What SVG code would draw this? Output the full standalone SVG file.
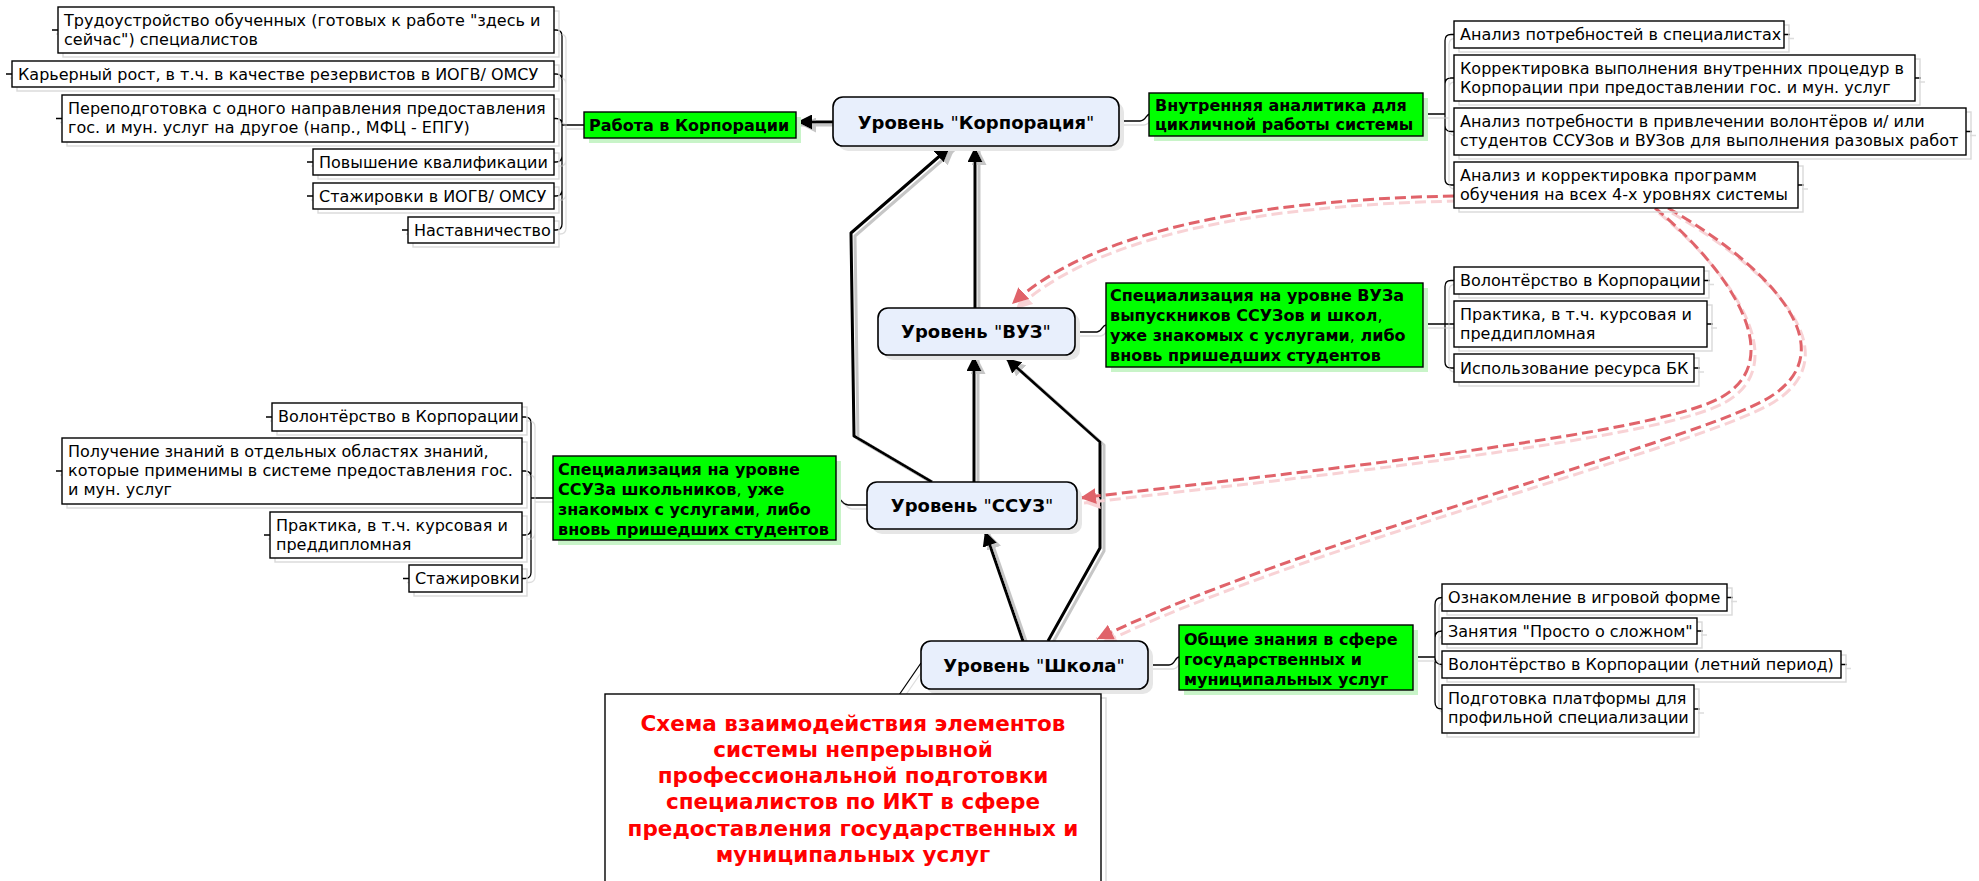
<svg xmlns="http://www.w3.org/2000/svg" width="1979" height="881" viewBox="0 0 1979 881">
<style>
.bg{fill:#fff}
.leaf{fill:#fff;stroke:#000;stroke-width:1.4}
.lsh{fill:none;stroke:#d9d9d9;stroke-width:1.4}
.t{font-family:"DejaVu Sans",Verdana,sans-serif;font-size:16px;fill:#000}
.green{fill:#00ff00;stroke:#000;stroke-width:1.4}
.gsh{fill:#c8f4c8}
.gt{font-family:"DejaVu Sans",Verdana,sans-serif;font-size:16px;font-weight:bold;fill:#000}
.n{font-weight:normal}
.lvl{fill:#e8effc;stroke:#000;stroke-width:1.6}
.lvsh{fill:#e6e6e6}
.lt{font-family:"DejaVu Sans",Verdana,sans-serif;font-size:18px;font-weight:bold;fill:#000;text-anchor:middle}
.tt{font-family:"DejaVu Sans",Verdana,sans-serif;font-size:21.5px;font-weight:bold;fill:#ff0000;text-anchor:middle}
.arrow{stroke:#000;stroke-width:3;fill:none;stroke-linejoin:round;marker-end:url(#ah)}
.br{stroke:#000;stroke-width:1.3;fill:none}
.red{stroke:#e0636a;stroke-width:3;stroke-dasharray:11 5;fill:none;marker-end:url(#ahr)}
</style>
<defs>
<marker id="ah" markerUnits="userSpaceOnUse" markerWidth="17" markerHeight="15" refX="15" refY="7.5" orient="auto"><path d="M0,0 L15,7.5 L0,15 z" fill="#000"/></marker>
<marker id="ahr" markerUnits="userSpaceOnUse" markerWidth="18" markerHeight="16" refX="16" refY="8" orient="auto"><path d="M0,0 L16,8 L0,16 z" fill="#e0636a"/></marker>
<filter id="shg" filterUnits="userSpaceOnUse" x="0" y="0" width="1979" height="881">
<feOffset in="SourceAlpha" dx="4" dy="3" result="o"/><feFlood flood-color="#c6c6c6"/><feComposite in2="o" operator="in" result="s"/>
<feMerge><feMergeNode in="s"/><feMergeNode in="SourceGraphic"/></feMerge></filter>
<filter id="shl" filterUnits="userSpaceOnUse" x="0" y="0" width="1979" height="881">
<feOffset in="SourceAlpha" dx="4" dy="4" result="o"/><feFlood flood-color="#dddddd"/><feComposite in2="o" operator="in" result="s"/>
<feMerge><feMergeNode in="s"/><feMergeNode in="SourceGraphic"/></feMerge></filter>
<filter id="shr" filterUnits="userSpaceOnUse" x="0" y="0" width="1979" height="881">
<feOffset in="SourceAlpha" dx="4" dy="5" result="o"/><feFlood flood-color="#f8d2d5"/><feComposite in2="o" operator="in" result="s"/>
<feMerge><feMergeNode in="s"/><feMergeNode in="SourceGraphic"/></feMerge></filter>
</defs>
<rect class="bg" x="0" y="0" width="1979" height="881"/>

<g id="connectors">
<g id="brackets" filter="url(#shl)" class="br">
<path d="M554,30 H556 Q562,30 562,36 M554,74 H556 Q562,74 562,80 M554,118.5 H556 Q562,118.5 562,124.5 M554,162 H556 Q562,162 562,156 M554,196 H556 Q562,196 562,190 M554,230 H556 Q562,230 562,224 M562,36 V224 M562,125 H584"/>
<path d="M1454,34.5 H1451 Q1445,34.5 1445,40.5 M1454,78 H1451 Q1445,78 1445,84 M1454,131.5 H1451 Q1445,131.5 1445,125.5 M1454,185 H1451 Q1445,185 1445,179 M1445,40.5 V179 M1423,114 H1445"/>
<path d="M1454,280.5 H1451 Q1445,280.5 1445,286.5 M1454,324 H1423 M1454,368 H1451 Q1445,368 1445,362 M1445,286.5 V362"/>
<path d="M522,417 H525 Q531,417 531,423 M522,471 H525 Q531,471 531,477 M522,535 H525 Q531,535 531,529 M522,578.5 H525 Q531,578.5 531,572.5 M531,423 V572.5 M531,498 H553"/>
<path d="M1442,597.5 Q1435,597.5 1435,604.5 M1442,631 Q1435,631 1435,638 M1442,664.5 Q1435,664.5 1435,657.5 M1442,709 Q1435,709 1435,702 M1435,604.5 V702 M1413,657 H1435"/>
<path d="M1119,121 H1140 C1146,121 1146,114 1150,114"/>
<path d="M1075,332 H1097 C1102,332 1102,325 1106,325"/>
<path d="M836,498 C842,498 842,505 848,505 H867"/>
<path d="M1148,665 H1169 C1175,665 1175,657 1179,657"/>
<path d="M921,663 L899,695"/>
<path d="M52,30 h6 M6,74 h6 M56,118.5 h6 M307,162 h6 M307,196 h6 M402,230 h6"/>
<path d="M1784,34.5 h6 M1915,78 h6 M1966,131.5 h6 M1798,185 h6"/>
<path d="M1704,280.5 h6 M1707,324 h6 M1694,368 h6"/>
<path d="M266,417 h6 M56,471 h6 M264,535 h6 M403,578.5 h6"/>
<path d="M1727,597.5 h6 M1697,631 h6 M1841,664.5 h6 M1694,709 h6"/>
</g>
<g id="arrows" filter="url(#shg)">
<path class="arrow" d="M833,122 H797"/>
<path class="arrow" d="M975,308 V147"/>
<path class="arrow" d="M932,482 L854,436 L851,233 L950,147"/>
<path class="arrow" d="M974,482 V356"/>
<path class="arrow" d="M1048,641 L1100,548 L1100,442 L1006,358"/>
<path class="arrow" d="M1023,641 L985,531"/>
</g>
<g id="dashed" filter="url(#shr)">
<path class="red" d="M1454,196 C1250,200 1090,232 1012,304"/>
<path class="red" d="M1655,208 C1730,270 1790,360 1720,398 C1650,436 1300,472 1080,498"/>
<path class="red" d="M1668,208 C1775,270 1845,350 1770,397 C1700,441 1300,540 1097,639"/>
</g>
</g>

<g id="level-corp"><rect class="lvsh" x="838" y="102" width="286" height="49" rx="10"/><rect class="lvl" x="833" y="97" width="286" height="49" rx="10"/><text class="lt" x="976" y="129">Уровень <tspan class="n">"</tspan>Корпорация<tspan class="n">"</tspan></text></g>
<g id="level-vuz"><rect class="lvsh" x="883" y="313" width="197" height="47" rx="10"/><rect class="lvl" x="878" y="308" width="197" height="47" rx="10"/><text class="lt" x="976" y="338">Уровень <tspan class="n">"</tspan>ВУЗ<tspan class="n">"</tspan></text></g>
<g id="level-ssuz"><rect class="lvsh" x="872" y="487" width="210" height="47" rx="10"/><rect class="lvl" x="867" y="482" width="210" height="47" rx="10"/><text class="lt" x="972" y="512">Уровень <tspan class="n">"</tspan>ССУЗ<tspan class="n">"</tspan></text></g>
<g id="level-school"><rect class="lvsh" x="926" y="646" width="227" height="48" rx="10"/><rect class="lvl" x="921" y="641" width="227" height="48" rx="10"/><text class="lt" x="1034" y="672">Уровень <tspan class="n">"</tspan>Школа<tspan class="n">"</tspan></text></g>

<g id="g-work"><rect class="gsh" x="589" y="117" width="212" height="26"/><rect class="green" x="584" y="112" width="212" height="26"/><text class="gt" x="589" y="131">Работа в Корпорации</text></g>
<g id="g-analytics"><rect class="gsh" x="1154" y="98" width="274" height="43"/><rect class="green" x="1149" y="93" width="274" height="43"/><text class="gt"><tspan x="1155" y="111">Внутренняя аналитика для</tspan><tspan x="1155" y="130">цикличной работы системы</tspan></text></g>
<g id="g-vuz"><rect class="gsh" x="1111" y="288" width="317" height="84"/><rect class="green" x="1106" y="283" width="317" height="84"/><text class="gt"><tspan x="1110" y="301">Специализация на уровне ВУЗа</tspan><tspan x="1110" y="321">выпускников ССУЗов и школ<tspan class="n">,</tspan></tspan><tspan x="1110" y="341">уже знакомых с услугами<tspan class="n">,</tspan> либо</tspan><tspan x="1110" y="361">вновь пришедших студентов</tspan></text></g>
<g id="g-ssuz"><rect class="gsh" x="558" y="461" width="283" height="84"/><rect class="green" x="553" y="456" width="283" height="84"/><text class="gt"><tspan x="558" y="475">Специализация на уровне</tspan><tspan x="558" y="495">ССУЗа школьников<tspan class="n">,</tspan> уже</tspan><tspan x="558" y="515">знакомых с услугами<tspan class="n">,</tspan> либо</tspan><tspan x="558" y="535">вновь пришедших студентов</tspan></text></g>
<g id="g-school"><rect class="gsh" x="1184" y="630" width="234" height="65"/><rect class="green" x="1179" y="625" width="234" height="65"/><text class="gt"><tspan x="1184" y="645">Общие знания в сфере</tspan><tspan x="1184" y="665">государственных и</tspan><tspan x="1184" y="685">муниципальных услуг</tspan></text></g>

<g id="b1"><rect class="lsh" x="63" y="11" width="496" height="46"/><rect class="leaf" x="58" y="7" width="496" height="46"/><text class="t"><tspan x="64" y="26">Трудоустройство обученных (готовых к работе "здесь и</tspan><tspan x="64" y="45">сейчас") специалистов</tspan></text></g>
<g id="b2"><rect class="lsh" x="17" y="65" width="542" height="26"/><rect class="leaf" x="12" y="61" width="542" height="26"/><text class="t" x="18" y="80">Карьерный рост, в т.ч. в качестве резервистов в ИОГВ/ ОМСУ</text></g>
<g id="b3"><rect class="lsh" x="67" y="99" width="492" height="47"/><rect class="leaf" x="62" y="95" width="492" height="47"/><text class="t"><tspan x="68" y="114">Переподготовка с одного направления предоставления</tspan><tspan x="68" y="133">гос. и мун. услуг на другое (напр., МФЦ - ЕПГУ)</tspan></text></g>
<g id="b4"><rect class="lsh" x="318" y="153" width="241" height="26"/><rect class="leaf" x="313" y="149" width="241" height="26"/><text class="t" x="319" y="168">Повышение квалификации</text></g>
<g id="b5"><rect class="lsh" x="318" y="187" width="241" height="26"/><rect class="leaf" x="313" y="183" width="241" height="26"/><text class="t" x="319" y="202">Стажировки в ИОГВ/ ОМСУ</text></g>
<g id="b6"><rect class="lsh" x="413" y="221" width="146" height="26"/><rect class="leaf" x="408" y="217" width="146" height="26"/><text class="t" x="414" y="236">Наставничество</text></g>

<g id="r1"><rect class="lsh" x="1459" y="25" width="330" height="27"/><rect class="leaf" x="1454" y="21" width="330" height="27"/><text class="t" x="1460" y="40">Анализ потребностей в специалистах</text></g>
<g id="r2"><rect class="lsh" x="1459" y="59" width="461" height="46"/><rect class="leaf" x="1454" y="55" width="461" height="46"/><text class="t"><tspan x="1460" y="74">Корректировка выполнения внутренних процедур в</tspan><tspan x="1460" y="93">Корпорации при предоставлении гос. и мун. услуг</tspan></text></g>
<g id="r3"><rect class="lsh" x="1459" y="112" width="512" height="47"/><rect class="leaf" x="1454" y="108" width="512" height="47"/><text class="t"><tspan x="1460" y="127">Анализ потребности в привлечении волонтёров и/ или</tspan><tspan x="1460" y="146">студентов ССУЗов и ВУЗов для выполнения разовых работ</tspan></text></g>
<g id="r4"><rect class="lsh" x="1459" y="166" width="344" height="46"/><rect class="leaf" x="1454" y="162" width="344" height="46"/><text class="t"><tspan x="1460" y="181">Анализ и корректировка программ</tspan><tspan x="1460" y="200">обучения на всех 4-х уровнях системы</tspan></text></g>

<g id="v1"><rect class="lsh" x="1459" y="271" width="250" height="27"/><rect class="leaf" x="1454" y="267" width="250" height="27"/><text class="t" x="1460" y="286">Волонтёрство в Корпорации</text></g>
<g id="v2"><rect class="lsh" x="1459" y="305" width="253" height="46"/><rect class="leaf" x="1454" y="301" width="253" height="46"/><text class="t"><tspan x="1460" y="320">Практика, в т.ч. курсовая и</tspan><tspan x="1460" y="339">преддипломная</tspan></text></g>
<g id="v3"><rect class="lsh" x="1459" y="358" width="240" height="28"/><rect class="leaf" x="1454" y="354" width="240" height="28"/><text class="t" x="1460" y="374">Использование ресурса БК</text></g>

<g id="s1"><rect class="lsh" x="277" y="407" width="250" height="28"/><rect class="leaf" x="272" y="403" width="250" height="28"/><text class="t" x="278" y="422">Волонтёрство в Корпорации</text></g>
<g id="s2"><rect class="lsh" x="67" y="442" width="460" height="66"/><rect class="leaf" x="62" y="438" width="460" height="66"/><text class="t"><tspan x="68" y="457">Получение знаний в отдельных областях знаний,</tspan><tspan x="68" y="476">которые применимы в системе предоставления гос.</tspan><tspan x="68" y="495">и мун. услуг</tspan></text></g>
<g id="s3"><rect class="lsh" x="275" y="516" width="252" height="46"/><rect class="leaf" x="270" y="512" width="252" height="46"/><text class="t"><tspan x="276" y="531">Практика, в т.ч. курсовая и</tspan><tspan x="276" y="550">преддипломная</tspan></text></g>
<g id="s4"><rect class="lsh" x="414" y="569" width="113" height="27"/><rect class="leaf" x="409" y="565" width="113" height="27"/><text class="t" x="415" y="584">Стажировки</text></g>

<g id="k1"><rect class="lsh" x="1447" y="588" width="285" height="27"/><rect class="leaf" x="1442" y="584" width="285" height="27"/><text class="t" x="1448" y="603">Ознакомление в игровой форме</text></g>
<g id="k2"><rect class="lsh" x="1447" y="622" width="255" height="26"/><rect class="leaf" x="1442" y="618" width="255" height="26"/><text class="t" x="1448" y="637">Занятия "Просто о сложном"</text></g>
<g id="k3"><rect class="lsh" x="1447" y="655" width="399" height="27"/><rect class="leaf" x="1442" y="651" width="399" height="27"/><text class="t" x="1448" y="670">Волонтёрство в Корпорации (летний период)</text></g>
<g id="k4"><rect class="lsh" x="1447" y="689" width="252" height="48"/><rect class="leaf" x="1442" y="685" width="252" height="48"/><text class="t"><tspan x="1448" y="704">Подготовка платформы для</tspan><tspan x="1448" y="723">профильной специализации</tspan></text></g>

<g id="title"><rect class="lsh" x="610" y="698" width="496" height="200"/><rect class="leaf" x="605" y="694" width="496" height="200"/><text class="tt"><tspan x="853" y="731">Схема взаимодействия элементов</tspan><tspan x="853" y="757">системы непрерывной</tspan><tspan x="853" y="783">профессиональной подготовки</tspan><tspan x="853" y="809">специалистов по ИКТ в сфере</tspan><tspan x="853" y="836">предоставления государственных и</tspan><tspan x="853" y="862">муниципальных услуг</tspan></text></g>
</svg>
